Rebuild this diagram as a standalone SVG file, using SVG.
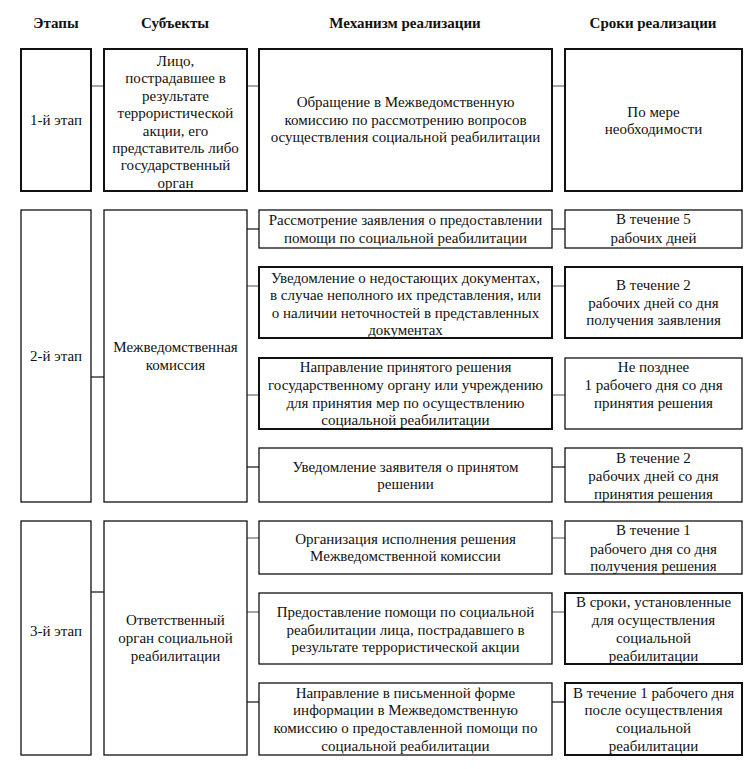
<svg xmlns="http://www.w3.org/2000/svg" width="755" height="769" viewBox="0 0 755 769">
<style>
.b{fill:#fff;stroke:#111;stroke-width:1.3}
.k{stroke-width:2}
text{font-size:15px;fill:#111;text-anchor:middle}
.h{font-weight:bold}
.c{stroke:#222;stroke-width:1.3;fill:none}
.g{stroke:#888;stroke-width:1.5;fill:none}
</style>
<rect width="755" height="769" fill="#fff"/>
<g font-family="Liberation Serif, Tinos, Noto Serif, FreeSerif, Times New Roman, Times, serif">
<g id="headers">
<text class="h" x="56" y="28">Этапы</text>
<text class="h" x="175" y="28">Субъекты</text>
<text class="h" x="405" y="28">Механизм реализации</text>
<text class="h" x="653" y="28">Сроки реализации</text>
</g>
<g id="connectors">
<line class="g" x1="91" y1="86" x2="104" y2="86"/>
<line class="g" x1="247" y1="86" x2="259" y2="86"/>
<line class="g" x1="552" y1="86" x2="565" y2="86"/>
<line class="c" x1="91" y1="377" x2="104" y2="377"/>
<line class="c" x1="247" y1="229" x2="259" y2="229"/>
<line class="g" x1="247" y1="286" x2="259" y2="286"/>
<line class="g" x1="247" y1="395" x2="259" y2="395"/>
<line class="c" x1="247" y1="467" x2="259" y2="467"/>
<line class="c" x1="552" y1="229" x2="565" y2="229"/>
<line class="g" x1="552" y1="286" x2="565" y2="286"/>
<line class="g" x1="552" y1="395" x2="565" y2="395"/>
<line class="c" x1="552" y1="467" x2="565" y2="467"/>
<line class="c" x1="91" y1="592" x2="104" y2="592"/>
<line class="g" x1="247" y1="538" x2="259" y2="538"/>
<line class="g" x1="247" y1="612" x2="259" y2="612"/>
<line class="c" x1="247" y1="702" x2="259" y2="702"/>
<line class="g" x1="552" y1="538" x2="565" y2="538"/>
<line class="g" x1="552" y1="612" x2="565" y2="612"/>
<line class="c" x1="552" y1="702" x2="565" y2="702"/>
</g>
<g id="stage1">
<rect class="b k" x="21" y="49" width="70" height="142"/>
<text x="56" y="125">1-й этап</text>
</g>
<g id="subject1">
<rect class="b k" x="104" y="49" width="143" height="142"/>
<text><tspan x="175.5" y="66">Лицо,</tspan><tspan x="175.5" y="83.4">пострадавшее в</tspan><tspan x="175.5" y="100.8">результате</tspan><tspan x="175.5" y="118.2">террористической</tspan><tspan x="175.5" y="135.6">акции, его</tspan><tspan x="175.5" y="153">представитель либо</tspan><tspan x="175.5" y="170.4">государственный</tspan><tspan x="175.5" y="187.8">орган</tspan></text>
</g>
<g id="mech1">
<rect class="b k" x="259" y="49" width="293" height="142"/>
<text><tspan x="405.5" y="107">Обращение в Межведомственную</tspan><tspan x="405.5" y="124.5">комиссию по рассмотрению вопросов</tspan><tspan x="405.5" y="142">осуществления социальной реабилитации</tspan></text>
</g>
<g id="term1">
<rect class="b k" x="565" y="49" width="177" height="142"/>
<text><tspan x="653.5" y="117">По мере</tspan><tspan x="653.5" y="133.5">необходимости</tspan></text>
</g>
<g id="stage2">
<rect class="b" x="21" y="210" width="70" height="292"/>
<text x="56" y="361">2-й этап</text>
</g>
<g id="subject2">
<rect class="b" x="104" y="210" width="143" height="292"/>
<text><tspan x="175.5" y="352">Межведомственная</tspan><tspan x="175.5" y="369.5">комиссия</tspan></text>
</g>
<g id="mech2a">
<rect class="b" x="259" y="210" width="293" height="38"/>
<text><tspan x="405.5" y="225">Рассмотрение заявления о предоставлении</tspan><tspan x="405.5" y="242.5">помощи по социальной реабилитации</tspan></text>
</g>
<g id="term2a">
<rect class="b" x="565" y="210" width="177" height="38"/>
<text><tspan x="653.5" y="224">В течение 5</tspan><tspan x="653.5" y="242.5">рабочих дней</tspan></text>
</g>
<g id="mech2b">
<rect class="b k" x="259" y="267" width="293" height="71"/>
<text><tspan x="405.5" y="282.5">Уведомление о недостающих документах,</tspan><tspan x="405.5" y="300">в случае неполного их представления, или</tspan><tspan x="405.5" y="317.5">о наличии неточностей в представленных</tspan><tspan x="405.5" y="335">документах</tspan></text>
</g>
<g id="term2b">
<rect class="b k" x="565" y="267" width="177" height="71"/>
<text><tspan x="653.5" y="290">В течение 2</tspan><tspan x="653.5" y="307.5">рабочих дней со дня</tspan><tspan x="653.5" y="325">получения заявления</tspan></text>
</g>
<g id="mech2c">
<rect class="b k" x="259" y="358" width="293" height="71"/>
<text><tspan x="405.5" y="372">Направление принятого решения</tspan><tspan x="405.5" y="390">государственному органу или учреждению</tspan><tspan x="405.5" y="407.5">для принятия мер по осуществлению</tspan><tspan x="405.5" y="425">социальной реабилитации</tspan></text>
</g>
<g id="term2c">
<rect class="b" x="565" y="358" width="177" height="71"/>
<text><tspan x="653.5" y="372">Не позднее</tspan><tspan x="653.5" y="390">1 рабочего дня со дня</tspan><tspan x="653.5" y="407.5">принятия решения</tspan></text>
</g>
<g id="mech2d">
<rect class="b" x="259" y="448" width="293" height="54"/>
<text><tspan x="405.5" y="471.5">Уведомление заявителя о принятом</tspan><tspan x="405.5" y="489">решении</tspan></text>
</g>
<g id="term2d">
<rect class="b" x="565" y="448" width="177" height="54"/>
<text><tspan x="653.5" y="462.5">В течение 2</tspan><tspan x="653.5" y="481">рабочих дней со дня</tspan><tspan x="653.5" y="498.5">принятия решения</tspan></text>
</g>
<g id="stage3">
<rect class="b" x="21" y="521" width="70" height="234"/>
<text x="56" y="636">3-й этап</text>
</g>
<g id="subject3">
<rect class="b" x="104" y="521" width="143" height="234"/>
<text><tspan x="175.5" y="625">Ответственный</tspan><tspan x="175.5" y="643">орган социальной</tspan><tspan x="175.5" y="661">реабилитации</tspan></text>
</g>
<g id="mech3a">
<rect class="b" x="259" y="521" width="293" height="53"/>
<text><tspan x="405.5" y="543.5">Организация исполнения решения</tspan><tspan x="405.5" y="561">Межведомственной комиссии</tspan></text>
</g>
<g id="term3a">
<rect class="b" x="565" y="521" width="177" height="53"/>
<text><tspan x="653.5" y="535">В течение 1</tspan><tspan x="653.5" y="553.5">рабочего дня со дня</tspan><tspan x="653.5" y="571">получения решения</tspan></text>
</g>
<g id="mech3b">
<rect class="b" x="259" y="593" width="293" height="71"/>
<text><tspan x="405.5" y="617">Предоставление помощи по социальной</tspan><tspan x="405.5" y="635">реабилитации лица, пострадавшего в</tspan><tspan x="405.5" y="652">результате террористической акции</tspan></text>
</g>
<g id="term3b">
<rect class="b k" x="565" y="593" width="177" height="71"/>
<text><tspan x="653.5" y="607">В сроки, установленные</tspan><tspan x="653.5" y="625">для осуществления</tspan><tspan x="653.5" y="643">социальной</tspan><tspan x="653.5" y="661">реабилитации</tspan></text>
</g>
<g id="mech3c">
<rect class="b" x="259" y="683" width="293" height="72"/>
<text><tspan x="405.5" y="697.5">Направление в письменной форме</tspan><tspan x="405.5" y="715">информации в Межведомственную</tspan><tspan x="405.5" y="733">комиссию о предоставленной помощи по</tspan><tspan x="405.5" y="750.5">социальной реабилитации</tspan></text>
</g>
<g id="term3c">
<rect class="b k" x="565" y="683" width="177" height="72"/>
<text><tspan x="653.5" y="697.5">В течение 1 рабочего дня</tspan><tspan x="653.5" y="715">после осуществления</tspan><tspan x="653.5" y="733">социальной</tspan><tspan x="653.5" y="750.5">реабилитации</tspan></text>
</g>
</g>
</svg>
